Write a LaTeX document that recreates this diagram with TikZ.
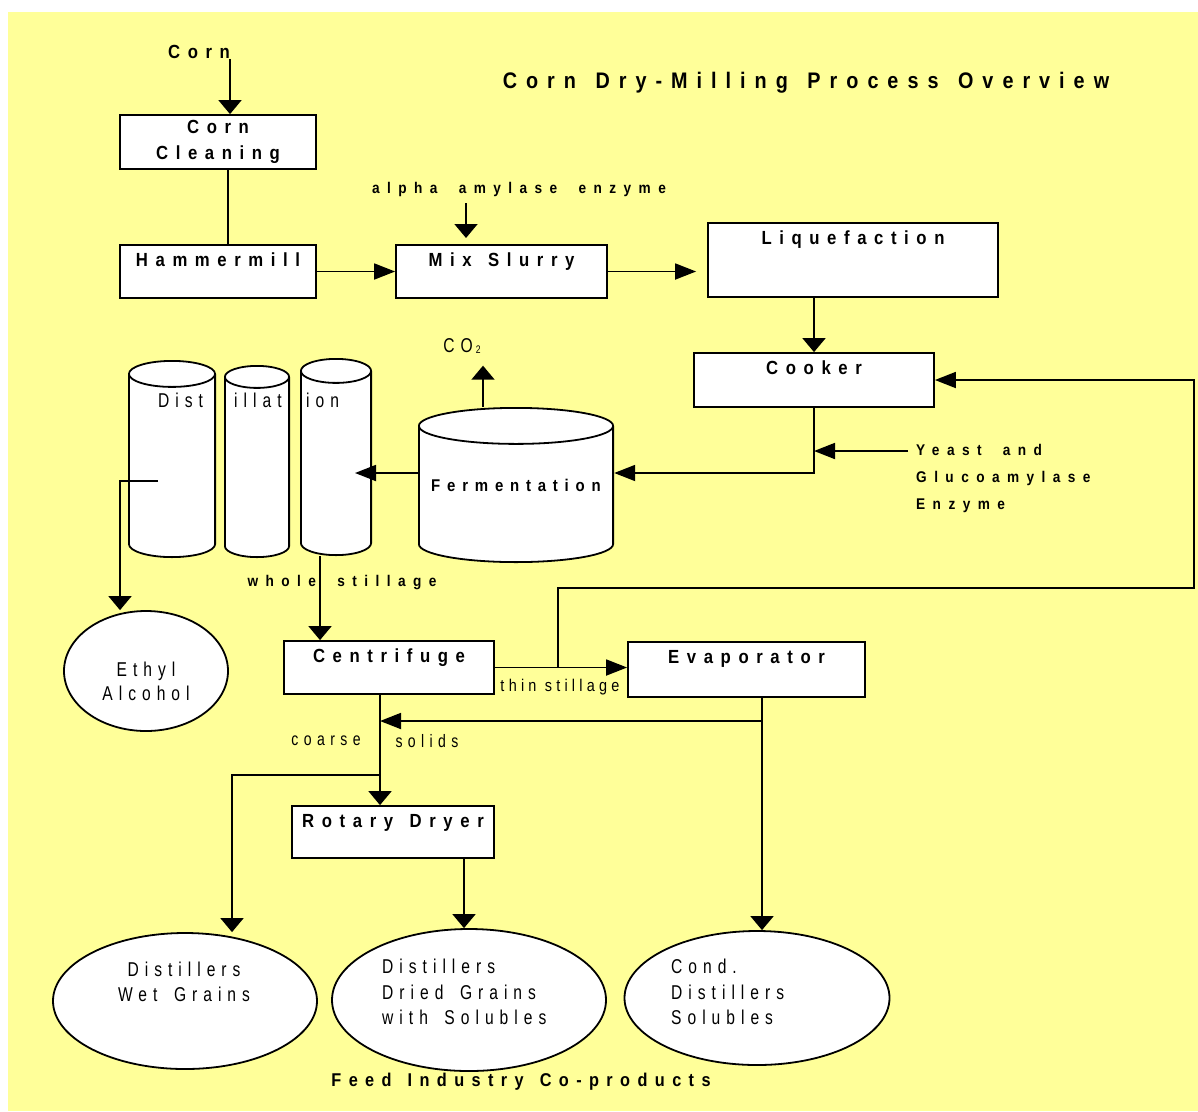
\documentclass[tikz,border=0pt]{standalone}
\usepackage{fontspec}
\setmainfont{Liberation Sans}
\usetikzlibrary{shapes.geometric, arrows.meta, calc}
\definecolor{bgyellow}{HTML}{FFFF99}
\newfontfamily\boxfont[FakeStretch=0.88, LetterSpace=40, WordSpace=1.35]{Liberation Sans}
\newfontfamily\tagfont[FakeStretch=0.88, LetterSpace=48, WordSpace=1.9]{Liberation Sans}
\newfontfamily\plainfont[FakeStretch=0.78, LetterSpace=30, WordSpace=1.6]{Liberation Sans}
\newfontfamily\narrowfont[FakeStretch=0.85, LetterSpace=25]{Liberation Sans}
\tikzstyle{procbox} = [rectangle, draw=black, fill=white, line width=1.8pt, inner sep=0pt]
\tikzstyle{boxlbl} = [anchor=base, yshift=-22pt, inner sep=0pt, font=\boxfont\bfseries\fontsize{19}{26}\selectfont]
\tikzset{tank/.style={rectangle, inner sep=0pt, path picture={
    \filldraw [fill=white, line width=1.8pt]
      let \p1 = (path picture bounding box.north west), \p2 = (path picture bounding box.south east),
          \n1 = {(\x2-\x1)/2-0.9pt}, \n2 = {#1pt} in
      ({\x1+0.9pt},{\y1-\n2-0.9pt}) -- ({\x1+0.9pt},{\y2+\n2+0.9pt})
      arc [start angle=180, end angle=360, x radius=\n1, y radius=\n2]
      -- ({\x2-0.9pt},{\y1-\n2-0.9pt})
      arc [start angle=0, end angle=180, x radius=\n1, y radius=\n2] -- cycle;
    \draw [line width=1.8pt]
      let \p1 = (path picture bounding box.north west), \p2 = (path picture bounding box.south east),
          \n1 = {(\x2-\x1)/2-0.9pt}, \n2 = {#1pt} in
      ({\x1+0.9pt},{\y1-\n2-0.9pt}) arc [start angle=180, end angle=360, x radius=\n1, y radius=\n2];
  }}}
\tikzstyle{product} = [ellipse, draw=black, fill=white, line width=1.8pt, inner sep=0pt]
\tikzstyle{bigbold} = [inner sep=0pt, align=center, font=\boxfont\bfseries\fontsize{19}{26}\selectfont]
\tikzstyle{smallbold} = [inner sep=0pt, align=left, font=\tagfont\bfseries\fontsize{15.5}{27}\selectfont]
\tikzstyle{plaintxt} = [inner sep=0pt, align=left, font=\plainfont\fontsize{20}{25.5}\selectfont]
\tikzstyle{conn} = [line width=1.8pt]
\tikzstyle{harrow} = [line width=1.8pt, -{Triangle[length=21pt, width=16pt]}]
\tikzstyle{varrow} = [line width=1.8pt, -{Triangle[length=14pt, width=23pt]}]

\begin{document}
\begin{tikzpicture}[x=1pt, y=-1pt]
    \useasboundingbox (0,0) rectangle (1198,1111);
    \fill [white] (0,0) rectangle (1198,1111);
    \fill [bgyellow] (8,12) rectangle (1198,1111);

    % titles and inputs
    \node (title) [bigbold, font=\boxfont\bfseries\fontsize{22.5}{26}\selectfont] at (806,83) {Corn Dry-Milling Process Overview};
    \node (cornin) [bigbold] at (199,52) {Corn};
    \node (amyl) [smallbold] at (519,189) {alpha amylase enzyme};
    \node (co2) [plaintxt] at (462,346) {CO\hspace{3pt}\raisebox{-1pt}{\fontsize{11}{12}\selectfont 2}};
    \node (yeast) [smallbold, anchor=north west] at (916,444) {Yeast and\\Glucoamylase\\Enzyme};

    % process boxes
    \node (clean) [procbox, minimum width=196pt, minimum height=54pt, align=center, font=\boxfont\bfseries\fontsize{19}{26}\selectfont] at (218,142) {Corn\\Cleaning};
    \node (ham) [procbox, minimum width=196pt, minimum height=53pt, label={[boxlbl]north:Hammermill}] at (218,271.5) {};
    \node (mix) [procbox, minimum width=211pt, minimum height=53pt, label={[boxlbl]north:Mix Slurry}] at (501.5,271.5) {};
    \node (liq) [procbox, minimum width=290pt, minimum height=74pt, label={[boxlbl]north:Liquefaction}] at (853,260) {};
    \node (cook) [procbox, minimum width=240pt, minimum height=54pt, label={[boxlbl]north:Cooker}] at (814,380) {};
    \node (cent) [procbox, minimum width=210pt, minimum height=53pt, label={[boxlbl]north:Centrifuge}] at (389,667.5) {};
    \node (evap) [procbox, minimum width=237pt, minimum height=55pt, label={[boxlbl]north:Evaporator}] at (746.5,669.5) {};
    \node (dryer) [procbox, minimum width=202pt, minimum height=52pt, label={[boxlbl]north:Rotary Dryer}] at (393,832) {};

    % tanks
    \node (ferm) [tank=18, minimum width=196pt, minimum height=156pt, font=\boxfont\bfseries\fontsize{17}{20}\selectfont] at (516,485) {Fermentation};
    \node (col1) [tank=13, minimum width=88pt, minimum height=198pt] at (172,459) {};
    \node (col2) [tank=11, minimum width=66pt, minimum height=193pt] at (257,461.5) {};
    \node (col3) [tank=12, minimum width=72pt, minimum height=198pt] at (336,457) {};
    \node (dist1) [plaintxt, anchor=west] at (158,400) {Dist};
    \node (dist2) [plaintxt, anchor=west] at (234,400) {illat};
    \node (dist3) [plaintxt, anchor=west] at (306,400) {ion};

    % products
    \node (ethyl) [product, minimum width=164pt, minimum height=120pt] at (146,671) {};
    \node (ethyltxt) [plaintxt, align=center, font=\plainfont\fontsize{20}{24}\selectfont] at (146,681) {Ethyl\\Alcohol};
    \node (dwg) [product, minimum width=264pt, minimum height=136pt] at (185,1001) {};
    \node (dwgtxt) [plaintxt, align=center] at (184,982) {Distillers\\Wet Grains};
    \node (ddgs) [product, minimum width=274pt, minimum height=142pt] at (469,1000) {};
    \node (ddgstxt) [plaintxt, anchor=west] at (382,992) {Distillers\\Dried Grains\\with Solubles};
    \node (cds) [product, minimum width=265pt, minimum height=134pt] at (757,998) {};
    \node (cdstxt) [plaintxt, anchor=west] at (671,992) {Cond.\\Distillers\\Solubles};
    \node (feed) [bigbold, font=\boxfont\bfseries\fontsize{18.5}{22}\selectfont] at (521,1082) {Feed Industry Co-products};

    % stream labels
    \node (whole) [smallbold] at (342,583) {whole stillage};
    \node (thin) [plaintxt, font=\narrowfont\fontsize{17}{20}\selectfont] at (560,687) {thin stillage};
    \node (coarse) [plaintxt, font=\plainfont\fontsize{18}{20}\selectfont] at (326,741) {coarse};
    \node (solids) [plaintxt, font=\plainfont\fontsize{18}{20}\selectfont] at (427,741) {solids};

    \coordinate (mixin) at (466,238);
    \coordinate (yeastin) at (908,451);
    \coordinate (col3in) at (355,473);
    \coordinate (alcout) at (158,481);
    \coordinate (fbA) at (558,588);
    \coordinate (fbB) at (1194,588);
    \coordinate (solA) at (762,721);
    \coordinate (wetA) at (380,775);
    \coordinate (cdown) at ([xshift=-9pt]cent.south);

    \draw [varrow] ([xshift=31pt]cornin.south) -- ([xshift=31pt]cornin.south |- clean.north);
    \draw [conn] ([xshift=10pt]clean.south) -- ([xshift=10pt]ham.north);
    \draw [harrow] (ham.east) -- (mix.west);
    \draw [varrow, shorten <=7pt] (amyl.south -| mixin) -- (mixin);
    \draw [harrow, shorten >=11pt] (mix.east) -- (mix.east -| liq.west);
    \draw [varrow] (cook.north |- liq.south) -- (cook.north);
    \draw [harrow] (cook.south) |- ([yshift=12pt]ferm.east);
    \draw [harrow] (yeastin) -- (yeastin -| cook.south);
    \draw [varrow, shorten >=12pt] ([xshift=-33pt]ferm.north) -- ([xshift=-33pt]ferm.north |- co2.south);
    \draw [harrow] ([yshift=12pt]ferm.west) -- (col3in);
    \draw [varrow] (alcout) -| ([xshift=-26pt]ethyl.north);
    \draw [varrow] ([xshift=-16pt]col3.south) -- ([xshift=-16pt]col3.south |- cent.north);
    \draw [harrow] (cent.east) -- (cent.east -| evap.west);
    \draw [harrow] (cent.east -| fbA) -- (fbA) -- (fbB) |- (cook.east);
    \draw [varrow] (cdown) -- (cdown |- dryer.north);
    \draw [harrow] (solA) -- (solA -| cdown);
    \draw [varrow] ([xshift=15.5pt]evap.south) -- ([xshift=15.5pt]evap.south |- cds.north);
    \draw [varrow] (wetA) -| ([xshift=47pt]dwg.north);
    \draw [varrow] ([xshift=71pt]dryer.south) -- ([xshift=71pt]dryer.south |- ddgs.north);
\end{tikzpicture}
\end{document}
